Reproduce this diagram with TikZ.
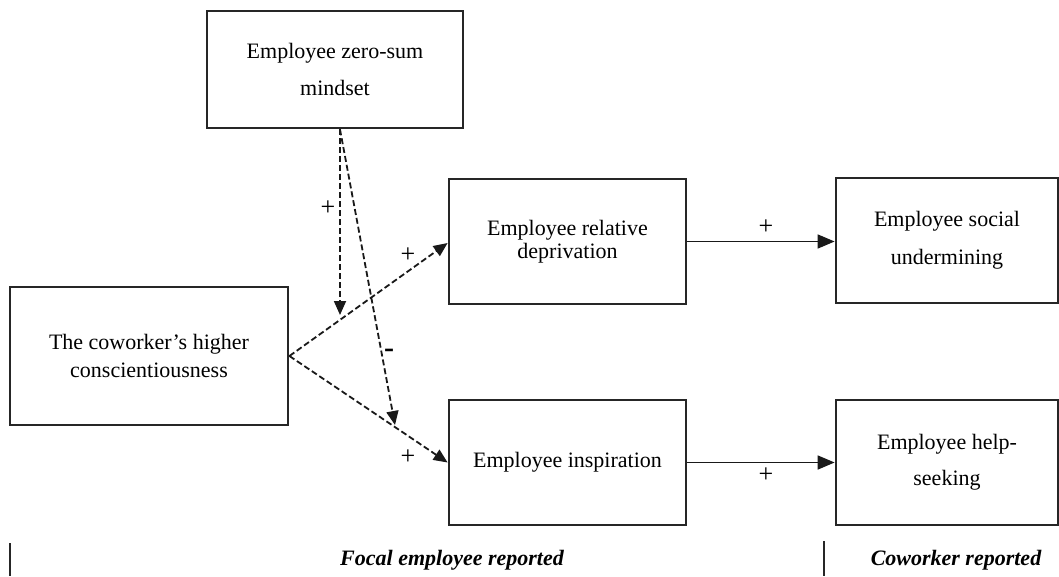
\documentclass[tikz,border=0pt]{standalone}
\usepackage{fontspec}
\setmainfont{Liberation Serif}
\usetikzlibrary{arrows.meta,calc}
\tikzset{
  box/.style={draw=black!85, line width=2.8pt, rectangle, align=center, inner sep=0pt},
  solidarrow/.style={line width=1.7pt, black!90, -{Triangle[length=17pt,width=14pt]}},
  dasharrow/.style={line width=1.8pt, black!90, dash pattern=on 6pt off 3pt, -{Triangle[length=14pt,width=12pt]}},
  sign/.style={font=\fontsize{26}{28}\selectfont, inner sep=0pt},
  footer/.style={font=\fontsize{22}{24}\selectfont\bfseries\itshape, inner sep=0pt, anchor=base},
}
\begin{document}
\begin{tikzpicture}[x=1pt, y=-1pt]
\useasboundingbox (0,0) rectangle (1059,577);

\node[box, minimum width=256pt, minimum height=117pt, font=\fontsize{22}{37}\selectfont] (zs) at (335,69.5) {Employee zero-sum\\mindset};
\node[box, minimum width=278pt, minimum height=138pt, font=\fontsize{22}{28}\selectfont] (cw) at (149,356) {The coworker’s higher\\conscientiousness};
\node[box, minimum width=237pt, minimum height=125pt, font=\fontsize{22}{23}\selectfont] (rd) at (567.5,241.5) {Employee relative\\deprivation};
\node[box, minimum width=222pt, minimum height=125pt, font=\fontsize{22}{38}\selectfont] (su) at (947,240.5) {Employee social\\undermining};
\node[box, minimum width=237pt, minimum height=125pt, font=\fontsize{22}{26}\selectfont] (ei) at (567.5,462.5) {Employee inspiration};
\node[box, minimum width=222pt, minimum height=125pt, font=\fontsize{22}{36}\selectfont] (hs) at (947,462.5) {Employee help-\\seeking};

\coordinate (zsa) at ($(zs.south)+(5,0)$);
\coordinate (m1) at (340,315);
\coordinate (m2) at (395,425);

\draw[solidarrow] (rd.east) -- (su.west |- rd.east);
\draw[solidarrow] (ei.east) -- (hs.west |- ei.east);
\draw[dasharrow] (cw.east) -- ($(rd.west)+(0,1.5)$);
\draw[dasharrow] (cw.east) -- (ei.west);
\draw[dasharrow] (zsa) -- (m1);
\draw[dasharrow] (zsa) -- (m2);

\node[sign] (p1) at (328,208) {+};
\node[sign] (p2) at (408,255) {+};
\node[sign, font=\fontsize{30}{32}\selectfont\bfseries] (n1) at (389,353) {-};
\node[sign] (p3) at (408,457) {+};
\node[sign] (p4) at (766,227) {+};
\node[sign] (p5) at (766,475) {+};

\draw[line width=2.6pt, black!85] (10,543) -- (10,576);
\draw[line width=2.6pt, black!85] (824,541) -- (824,576);
\node[footer] (fe) at (452,565) {Focal employee reported};
\node[footer] (cr) at (956,565) {Coworker reported};
\end{tikzpicture}
\end{document}
